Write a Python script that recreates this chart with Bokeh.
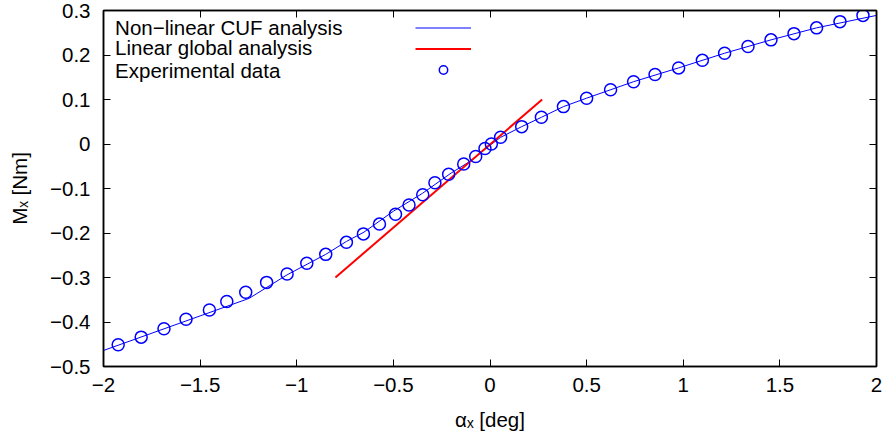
from bokeh.plotting import figure
from bokeh.models import (Range1d, FixedTicker, LinearAxis, Legend, LegendItem,
                          Label, CustomJSTickFormatter)
from bokeh.embed import file_html
from bokeh.resources import INLINE

# ---------------- data ----------------
exp_x = [-1.924, -1.805, -1.687, -1.573, -1.452, -1.362, -1.264, -1.156, -1.050, -0.948,
         -0.850, -0.743, -0.655, -0.572, -0.489, -0.419, -0.348, -0.285, -0.214, -0.136,
         -0.074, -0.026, 0.007, 0.055, 0.164, 0.266, 0.380, 0.500, 0.624, 0.743,
         0.854, 0.976, 1.099, 1.214, 1.335, 1.454, 1.573, 1.690, 1.811, 1.930]
exp_y = [-0.451, -0.434, -0.415, -0.394, -0.373, -0.354, -0.333, -0.311, -0.292, -0.268,
         -0.248, -0.221, -0.202, -0.180, -0.158, -0.137, -0.114, -0.087, -0.068, -0.045,
         -0.028, -0.010, 0.000, 0.015, 0.039, 0.060, 0.084, 0.103, 0.122, 0.140,
         0.156, 0.171, 0.188, 0.204, 0.219, 0.234, 0.248, 0.261, 0.275, 0.289]

cuf_x = [-2.0, -1.247, -1.05, -0.85, -0.743, -0.652, -0.5, -0.35, -0.2, -0.1, 0.0,
         0.055, 0.164, 0.266, 0.380, 0.500, 0.743, 0.976, 1.214, 1.454, 1.690, 2.0]
cuf_y = [-0.464, -0.347, -0.294, -0.248, -0.219, -0.198, -0.151, -0.111, -0.065, -0.038, -0.003,
         0.015, 0.039, 0.060, 0.084, 0.103, 0.140, 0.171, 0.204, 0.234, 0.261, 0.289]

lin_x = [-0.8, 0.27]
lin_y = [-0.3, 0.1]

x_ticks = [-2, -1.5, -1, -0.5, 0, 0.5, 1, 1.5, 2]
x_tick_labels = ["\u22122", "\u22121.5", "\u22121", "\u22120.5", "0", "0.5", "1", "1.5", "2"]
y_ticks = [-0.5, -0.4, -0.3, -0.2, -0.1, 0, 0.1, 0.2, 0.3]
y_tick_labels = ["\u22120.5", "\u22120.4", "\u22120.3", "\u22120.2", "\u22120.1", "0", "0.1", "0.2", "0.3"]

legend_labels = ["Non\u2212linear CUF analysis", "Linear global analysis", "Experimental data"]

FONT = "Liberation Sans"
FS = "20.5px"
BLUE = "#0000ff"
RED = "#ff0000"

p = figure(width=884, height=436, output_backend="svg", toolbar_location=None,
           x_range=Range1d(-2, 2), y_range=Range1d(-0.5, 0.3),
           min_border_left=103, min_border_right=8, min_border_top=10, min_border_bottom=70)
p.grid.visible = False
p.background_fill_color = "white"
p.border_fill_color = "white"
p.outline_line_color = "black"
p.outline_line_width = 1.5

r_cuf = p.line(cuf_x, cuf_y, line_color=BLUE, line_width=1)
r_lin = p.line(lin_x, lin_y, line_color=RED, line_width=2)
r_exp = p.scatter(exp_x, exp_y, marker="circle", size=12, fill_color=None,
                  line_color=BLUE, line_width=1.5)

def style_axis(ax, ticks, overrides, show_labels):
    ax.ticker = FixedTicker(ticks=ticks)
    ax.minor_tick_line_color = None
    ax.major_tick_in = 7
    ax.major_tick_out = 0
    ax.major_tick_line_color = "black"
    ax.major_tick_line_width = 1
    ax.axis_line_color = "black"
    ax.axis_line_width = 1.5
    ax.major_label_text_font = FONT
    ax.major_label_text_font_size = FS
    ax.major_label_text_color = "black"
    ax.axis_label_text_font = FONT
    ax.axis_label_text_font_size = FS
    ax.axis_label_text_font_style = "normal"
    ax.axis_label_text_color = "black"
    if show_labels:
        ax.major_label_overrides = {t: l for t, l in zip(ticks, overrides)}
    else:
        ax.formatter = CustomJSTickFormatter(code="return ''")
        ax.major_label_standoff = 0

xa = p.xaxis[0]
ya = p.yaxis[0]
style_axis(xa, x_ticks, x_tick_labels, True)
style_axis(ya, y_ticks, y_tick_labels, True)
xa.axis_label = "\u03b1\u2093 [deg]"
ya.axis_label = "M\u2093 [Nm]"
xa.major_label_standoff = 11
ya.major_label_standoff = 13
xa.axis_label_standoff = 13
ya.axis_label_standoff = 16

top = LinearAxis()
right = LinearAxis()
style_axis(top, x_ticks, None, False)
style_axis(right, y_ticks, None, False)
p.add_layout(top, "above")
p.add_layout(right, "right")

# legend: texts on the left, samples on the right (gnuplot style)
legend = Legend(items=[LegendItem(label="", renderers=[r]) for r in (r_cuf, r_lin, r_exp)],
                location=(312, 286), orientation="vertical",
                glyph_width=56, glyph_height=21, label_width=0, label_height=21,
                label_standoff=0, spacing=0, padding=0, margin=0,
                border_line_color=None, background_fill_alpha=0,
                label_text_font=FONT, label_text_font_size=FS)
p.add_layout(legend, "center")

label_y = [0.262, 0.216, 0.166]
for txt, yy in zip(legend_labels, label_y):
    p.add_layout(Label(x=-1.94, y=yy, text=txt, text_font=FONT, text_font_size=FS,
                       text_baseline="middle", text_align="left", text_color="black"))

open("out.html", "w").write(file_html(p, INLINE))
